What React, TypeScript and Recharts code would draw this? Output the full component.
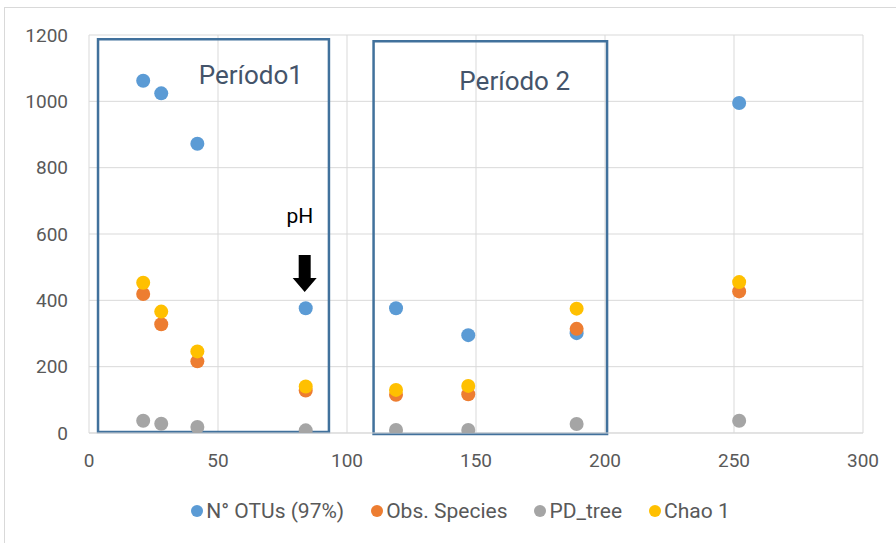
import React from "react";
import {
  ScatterChart,
  Scatter,
  XAxis,
  YAxis,
  CartesianGrid,
  Legend,
  ReferenceArea,
  ReferenceDot,
} from "recharts";

// Sample positions (x axis) and series values
const xValues = [21, 28, 42, 84, 119, 147, 189, 252];
const otus = [1062, 1024, 872, 376, 376, 295, 301, 995];
const obsSpecies = [419, 328, 216, 128, 115, 117, 314, 427];
const pdTree = [37, 28, 18, 8, 9, 9, 27, 37];
const chao1 = [453, 366, 246, 140, 130, 142, 375, 455];

const seriesNames = ["N° OTUs (97%)", "Obs. Species", "PD_tree", "Chao 1"];
const seriesColors = ["#5b9bd5", "#ed7d31", "#a5a5a5", "#ffc000"];

const xTicks = [0, 50, 100, 150, 200, 250, 300];
const yTicks = [0, 200, 400, 600, 800, 1000, 1200];

// Period boxes (data coordinates)
const period1Box = { x1: 3.5, x2: 93, y1: 3, y2: 1187 };
const period2Box = { x1: 110.3, x2: 200.8, y1: -3, y2: 1181 };
const period1Label = { x: 62.7, y: 1052, text: "Período1" };
const period2Label = { x: 165, y: 1034, text: "Período 2" };
const phLabel = { x: 81.7, y: 633, text: "pH" };
const phArrow = { x: 83.6, y: 537 };

const allSeries = [otus, obsSpecies, pdTree, chao1];
const seriesData = allSeries.map((vals) =>
  xValues.map((x, i) => ({ x, y: vals[i] }))
);

const FONT = "Roboto, 'Open Sans', sans-serif";

const makeDot = (color: string) => (props: any) => (
  <circle cx={props.cx} cy={props.cy} r={7} fill={color} />
);

const renderLegend = () => (
  <div
    style={{
      display: "flex",
      justifyContent: "center",
      alignItems: "center",
      gap: 27,
      fontFamily: FONT,
      fontSize: 21,
      color: "#595959",
      paddingLeft: 25,
    }}
  >
    {seriesNames.map((n, i) => (
      <div key={n} style={{ display: "flex", alignItems: "center" }}>
        <svg width={12} height={12} style={{ marginRight: 3 }}>
          <circle cx={6} cy={6} r={6} fill={seriesColors[i]} />
        </svg>
        <span>{n}</span>
      </div>
    ))}
  </div>
);

const textShape = (text: string, size: number, color: string) => (p: any) => (
  <text
    x={p.cx}
    y={p.cy}
    textAnchor="middle"
    fontFamily={FONT}
    fontSize={size}
    fill={color}
  >
    {text}
  </text>
);

const arrowShape = (p: any) => {
  const cx = p.cx;
  const top = p.cy;
  const d = `M ${cx - 6} ${top} L ${cx + 6} ${top} L ${cx + 6} ${top + 23} L ${cx + 12} ${top + 23} L ${cx} ${top + 37} L ${cx - 12} ${top + 23} L ${cx - 6} ${top + 23} Z`;
  return <path d={d} fill="#000" />;
};

export default function App() {
  return (
    <div style={{ position: "absolute", left: 0, top: 0, width: 896, height: 543, background: "#fff", overflow: "hidden" }}>
      <div
        style={{
          position: "absolute",
          left: 4,
          top: 7,
          width: 910,
          height: 560,
          border: "1px solid #d9d9d9",
        }}
      />
      <div style={{ position: "absolute", left: 0, top: 0 }}>
        <ScatterChart
          width={896}
          height={543}
          margin={{ top: 35, right: 33, bottom: 80, left: 0 }}
        >
          <CartesianGrid stroke="#d9d9d9" strokeWidth={1} />
          <XAxis
            type="number"
            dataKey="x"
            domain={[0, 300]}
            ticks={xTicks}
            height={30}
            tickLine={false}
            tickSize={0}
            tickMargin={21}
            axisLine={{ stroke: "#d9d9d9" }}
            tick={{ fill: "#595959", fontSize: 19, fontFamily: FONT }}
            allowDataOverflow
          />
          <YAxis
            type="number"
            dataKey="y"
            domain={[0, 1200]}
            ticks={yTicks}
            width={89}
            tickLine={false}
            tickSize={0}
            tickMargin={21}
            axisLine={false}
            tick={{ fill: "#595959", fontSize: 19, fontFamily: FONT }}
            allowDataOverflow
          />
          <ReferenceArea
            {...period1Box}
            fill="none"
            stroke="#41719c"
            strokeWidth={2.5}
            fillOpacity={0}
            ifOverflow="visible"
          />
          <ReferenceArea
            {...period2Box}
            fill="none"
            stroke="#41719c"
            strokeWidth={2.5}
            fillOpacity={0}
            ifOverflow="visible"
          />
          {seriesData.map((d, i) => (
            <Scatter
              key={seriesNames[i]}
              name={seriesNames[i]}
              data={d}
              fill={seriesColors[i]}
              shape={makeDot(seriesColors[i])}
              isAnimationActive={false}
            />
          ))}
          <ReferenceDot
            x={period1Label.x}
            y={period1Label.y}
            r={0}
            ifOverflow="visible"
            shape={textShape(period1Label.text, 26, "#44546a")}
          />
          <ReferenceDot
            x={period2Label.x}
            y={period2Label.y}
            r={0}
            ifOverflow="visible"
            shape={textShape(period2Label.text, 26, "#44546a")}
          />
          <ReferenceDot
            x={phLabel.x}
            y={phLabel.y}
            r={0}
            ifOverflow="visible"
            shape={textShape(phLabel.text, 21, "#000")}
          />
          <ReferenceDot
            x={phArrow.x}
            y={phArrow.y}
            r={0}
            ifOverflow="visible"
            shape={arrowShape}
          />
          <Legend
            verticalAlign="middle"
            layout="horizontal"
            content={renderLegend}
            wrapperStyle={{ top: 499, left: 0, width: 896, height: 28 }}
          />
        </ScatterChart>
      </div>
    </div>
  );
}
